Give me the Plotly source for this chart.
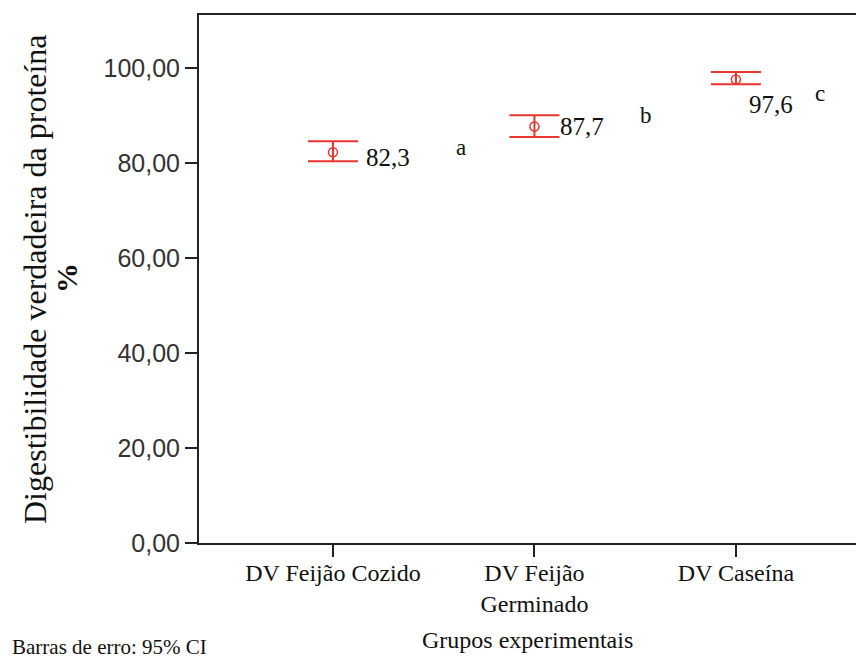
import plotly.graph_objects as go

# ---- data ----
categories = ["DV Feijão Cozido", "DV Feijão<br>Germinado", "DV Caseína"]
means = [82.3, 87.7, 97.6]
ci_upper = [84.6, 90.1, 99.2]
ci_lower = [80.4, 85.5, 96.6]
group_letters = ["a", "b", "c"]
y_ticks = [0, 20, 40, 60, 80, 100]

x_pos = list(range(len(categories)))
err_plus = [u - m for u, m in zip(ci_upper, means)]
err_minus = [m - l for m, l in zip(means, ci_lower)]

RED = "#e8352f"
SERIF = "Liberation Serif"
SANS = "Liberation Sans"

fig = go.Figure()
fig.add_trace(go.Scatter(
    x=x_pos, y=means, mode="markers",
    marker=dict(symbol="circle-open", size=9, color=RED, line=dict(width=1.5, color=RED)),
    error_y=dict(type="data", symmetric=False, array=err_plus, arrayminus=err_minus,
                 color=RED, thickness=2, width=25),
    showlegend=False, hoverinfo="skip",
))

# value labels and group letters (pixel offsets from each mean point)
value_shift = [(55, -5), (48, 0), (35, -25)]
letter_shift = [(128, 5), (112, 11), (84, -14)]
annotations = []
for i, m in enumerate(means):
    dx, dy = value_shift[i]
    annotations.append(dict(x=x_pos[i], y=m, xref="x", yref="y", text=f"{m:.1f}".replace(".", ","),
                            showarrow=False, xshift=dx, yshift=dy, xanchor="center", yanchor="middle",
                            font=dict(family=SERIF, size=25, color="#111")))
    dx, dy = letter_shift[i]
    annotations.append(dict(x=x_pos[i], y=m, xref="x", yref="y", text=group_letters[i],
                            showarrow=False, xshift=dx, yshift=dy, xanchor="center", yanchor="middle",
                            font=dict(family=SERIF, size=23, color="#111")))

# axis titles and footnote
annotations.append(dict(x=-0.2496, y=0.5, xref="paper", yref="paper",
                        text="Digestibilidade verdadeira da proteína", textangle=-90,
                        showarrow=False, xanchor="center", yanchor="middle",
                        font=dict(family=SERIF, size=32, color="#111")))
annotations.append(dict(x=-0.2009, y=0.502, xref="paper", yref="paper",
                        text="<b>%</b>", textangle=-90,
                        showarrow=False, xanchor="center", yanchor="middle",
                        font=dict(family=SERIF, size=30, color="#111")))
annotations.append(dict(x=0.5, y=-0.183, xref="paper", yref="paper",
                        text="Grupos experimentais", showarrow=False,
                        xanchor="center", yanchor="middle",
                        font=dict(family=SERIF, size=24, color="#111")))
annotations.append(dict(x=-0.2876, y=-0.2228, xref="paper", yref="paper",
                        text="Barras de erro: 95% CI", showarrow=False,
                        xanchor="left", yanchor="bottom",
                        font=dict(family=SERIF, size=21, color="#111")))

fig.update_layout(
    width=856, height=661,
    margin=dict(l=199, r=0, t=15, b=118, pad=0),
    paper_bgcolor="white", plot_bgcolor="white",
    separators=",.",
    annotations=annotations,
    xaxis=dict(
        range=[-0.665, 2.596], tickvals=x_pos, ticktext=categories,
        showgrid=False, zeroline=False,
        showline=True, linecolor="#222", linewidth=2, mirror=True,
        ticks="outside", ticklen=12, tickwidth=2, tickcolor="#222",
        ticklabelstandoff=-5,
        tickfont=dict(family=SERIF, size=24, color="#111"),
    ),
    yaxis=dict(
        range=[0, 111.2], tickvals=y_ticks, tickformat=".2f",
        showgrid=False, zeroline=False,
        showline=True, linecolor="#222", linewidth=2, mirror=False,
        ticks="outside", ticklen=12, tickwidth=2, tickcolor="#222",
        tickfont=dict(family=SANS, size=25, color="#333"),
    ),
)

fig.write_html("out.html")
